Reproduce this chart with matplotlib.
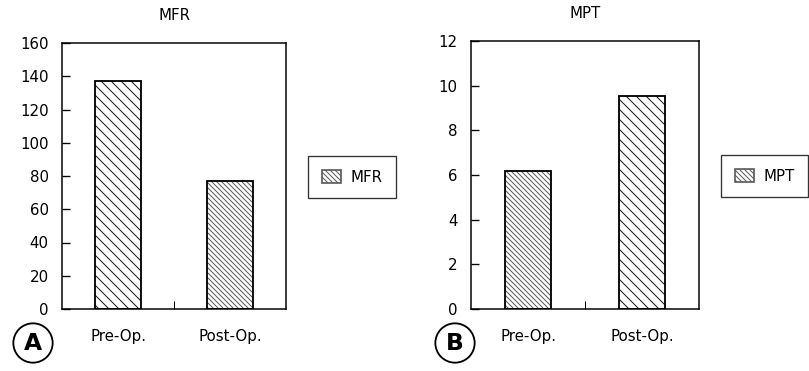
import matplotlib.pyplot as plt
from matplotlib.patches import Patch

# values
groups = ["Pre-Op.", "Post-Op."]
mfr = [137, 77]
mpt = [6.2, 9.55]

plt.rcParams["font.family"] = "DejaVu Sans"
plt.rcParams["hatch.linewidth"] = 0.6

DPI = 120
fig = plt.figure(figsize=(809 / DPI, 371 / DPI), dpi=DPI)

sparse = "\\" * 4
dense = "\\" * 8


def draw_panel(ax, values, hatches, title, ymax, yticks, letter, letter_x):
    x = range(len(values))
    for xi, v, h in zip(x, values, hatches):
        col = "0.1" if h == sparse else "0.35"
        ax.bar(xi, v, width=0.41, color="white", edgecolor=col, hatch=h, linewidth=0)
        ax.bar(xi, v, width=0.41, fill=False, edgecolor="black", linewidth=1.1)
    ax.set_xlim(-0.5, 1.5)
    ax.set_ylim(0, ymax)
    ax.set_yticks(yticks)
    ax.set_xticks(list(x))
    ax.set_xticklabels(groups)
    ax.set_xticks([0.5], minor=True)
    ax.tick_params(axis="x", which="major", length=0, pad=12, labelsize=9)
    ax.tick_params(axis="x", which="minor", direction="in", length=5)
    ax.tick_params(axis="y", direction="in", length=5, pad=8, labelsize=9)
    for s in ax.spines.values():
        s.set_linewidth(0.9)
    ax.set_title(title, fontsize=9, pad=14)

    leg = ax.legend(handles=[Patch(facecolor="white", edgecolor="0.35", hatch=dense,
                                   label=title)],
                    loc="center left", bbox_to_anchor=(1.065, 0.495),
                    frameon=True, fancybox=False, fontsize=9,
                    handlelength=1.3, handleheight=1.0, borderpad=0.9,
                    handletextpad=0.6)
    leg.get_frame().set_edgecolor("black")
    leg.get_frame().set_linewidth(0.8)

    fig.text(letter_x, 1 - 343 / 371, letter, fontsize=14, fontweight="bold",
             ha="center", va="center",
             bbox=dict(boxstyle="circle,pad=0.35", fc="white", ec="black", lw=1.1))


ax1 = fig.add_axes([62 / 809, 62 / 371, 224 / 809, 266 / 371])
draw_panel(ax1, mfr, [sparse, dense], "MFR", 160, range(0, 161, 20), "A", 33 / 809)

ax2 = fig.add_axes([471 / 809, 62 / 371, 228 / 809, 268 / 371])
draw_panel(ax2, mpt, [dense, sparse], "MPT", 12, range(0, 13, 2), "B", 455 / 809)

fig.savefig("out.png", dpi=DPI)
